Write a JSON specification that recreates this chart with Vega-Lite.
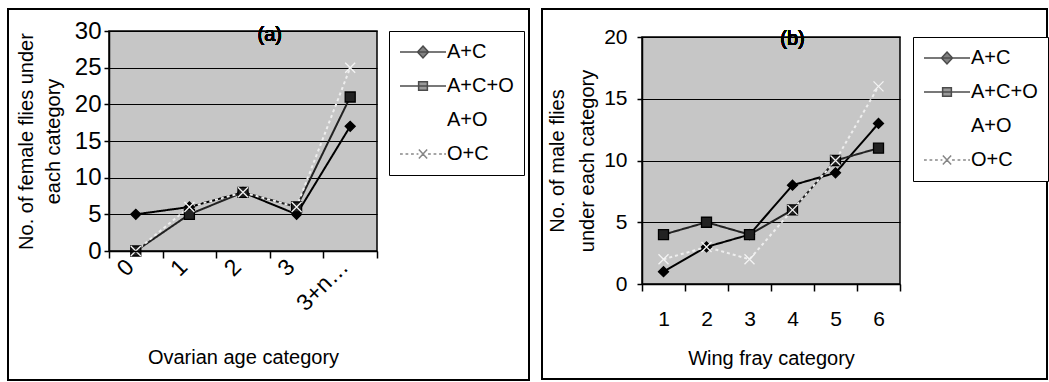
{
  "$schema": "https://vega.github.io/schema/vega-lite/v6.json",
  "background": "white",
  "padding": {"left": 6, "top": 7, "right": 0, "bottom": 0},
  "spacing": 9,
  "config": {
    "font": "Liberation Sans",
    "axis": {"labelFontSize": 20, "titleFontSize": 20, "labelColor": "black", "titleColor": "black", "titleFontWeight": "normal", "domainColor": "black", "tickColor": "black", "domainWidth": 1.5, "tickWidth": 1.5, "labelFont": "Liberation Sans", "titleFont": "Liberation Sans"},
    "legend": {"labelFont": "Liberation Sans", "labelFontSize": 20, "labelColor": "black"},
    "view": {"fill": "#c6c6c6", "stroke": "black", "strokeWidth": 1.5}
  },
  "resolve": {"scale": {"color": "independent", "stroke": "independent", "fill": "independent", "shape": "independent", "strokeDash": "independent", "x": "independent", "y": "independent"}, "legend": {"shape": "independent", "fill": "independent", "stroke": "independent"}},
  "hconcat": [
    {
      "width": 268,
      "height": 220,
      "data": {"values": [
        {"cat": "0", "series": "A+C", "n": 5}, {"cat": "1", "series": "A+C", "n": 6}, {"cat": "2", "series": "A+C", "n": 8}, {"cat": "3", "series": "A+C", "n": 5}, {"cat": "3+n…", "series": "A+C", "n": 17},
        {"cat": "0", "series": "A+C+O", "n": 0}, {"cat": "1", "series": "A+C+O", "n": 5}, {"cat": "2", "series": "A+C+O", "n": 8}, {"cat": "3", "series": "A+C+O", "n": 6}, {"cat": "3+n…", "series": "A+C+O", "n": 21},
        {"cat": "0", "series": "O+C", "n": 0}, {"cat": "1", "series": "O+C", "n": 6}, {"cat": "2", "series": "O+C", "n": 8}, {"cat": "3", "series": "O+C", "n": 6}, {"cat": "3+n…", "series": "O+C", "n": 25}
      ]},
      "encoding": {
        "x": {"field": "cat", "type": "ordinal", "sort": ["0", "1", "2", "3", "3+n…"], "bandPosition": 0.5,
          "scale": {"type": "band", "paddingInner": 0, "paddingOuter": 0},
          "axis": {"title": "Ovarian age category", "tickBand": "extent", "tickSize": 7, "labelAngle": -45, "labelBaseline": "middle", "labelAlign": "right", "labelOffset": -6, "labelFontSize": 23, "labelPadding": 5, "grid": false, "titlePadding": 32}},
        "y": {"field": "n", "type": "quantitative", "scale": {"domain": [0, 30]},
          "axis": {"title": ["No. of female flies under", "each category"], "values": [0, 5, 10, 15, 20, 25, 30], "labelFontSize": 24, "tickSize": 5, "labelPadding": 3, "grid": true, "gridColor": "black", "gridWidth": 1.2, "titlePadding": 11, "titleLineHeight": 27}}
      },
      "layer": [
        {"mark": {"type": "rect", "fill": "transparent", "stroke": "black", "strokeWidth": 1.5, "clip": false},
          "encoding": {
            "x": {"datum": "0", "bandPosition": -1.884},
            "x2": {"datum": "0", "bandPosition": 7.836},
            "y": {"datum": 33.0},
            "y2": {"datum": -17.6}
          }},
        {"mark": {"type": "line", "strokeWidth": 2},
          "encoding": {
            "color": {"field": "series", "type": "nominal", "legend": null, "scale": {"domain": ["A+C", "A+C+O", "A+O", "O+C"], "range": ["black", "#222222", "white", "#eeeeee"]}},
            "strokeDash": {"field": "series", "type": "nominal", "legend": null, "scale": {"domain": ["A+C", "A+C+O", "A+O", "O+C"], "range": [[1, 0], [1, 0], [1, 0], [3, 3]]}}
          }},
        {"mark": {"type": "point", "filled": true, "size": 100, "opacity": 1, "strokeWidth": 1.3},
          "encoding": {
            "color": {"field": "series", "type": "nominal", "legend": null, "scale": {"domain": ["A+C", "A+C+O", "A+O", "O+C"], "range": ["black", "#222222", "white", "#eeeeee"]}},
            "stroke": {"field": "series", "type": "nominal", "legend": null, "scale": {"domain": ["A+C", "A+C+O", "A+O", "O+C"], "range": ["black", "black", "white", "#f4f4f4"]}},
            "shape": {"field": "series", "type": "nominal", "legend": null, "scale": {"domain": ["A+C", "A+C+O", "A+O", "O+C"], "range": ["diamond", "square", "circle", "M-1,-1L1,1M-1,1L1,-1"]}}
          }},
        {"transform": [{"filter": "false"}],
          "mark": {"type": "point", "filled": true},
          "encoding": {
            "shape": {"field": "series", "type": "nominal",
              "scale": {"domain": ["A+C", "A+C+O", "A+O", "O+C"], "range": [
                "M-1,0L1,0M0,-0.26L0.24,0L0,0.26L-0.24,0Z",
                "M-1,0L1,0M-0.19,-0.19L0.19,-0.19L0.19,0.19L-0.19,0.19Z",
                "M-1,0L1,0",
                "M-1,0L-0.88,0M-0.76,0L-0.64,0M-0.52,0L-0.4,0M-0.28,0L-0.2,0M-0.18,-0.2L0.18,0.2M-0.18,0.2L0.18,-0.2M0.22,0L0.34,0M0.46,0L0.58,0M0.7,0L0.82,0M0.92,0L1,0"]},
              "legend": {"title": null, "orient": "right", "offset": 12, "symbolSize": 2116, "symbolStrokeWidth": 1.5, "clipHeight": 22, "rowPadding": 12, "labelOffset": 0, "padding": 10, "strokeColor": "black", "fillColor": "white"}},
            "fill": {"field": "series", "type": "nominal",
              "scale": {"domain": ["A+C", "A+C+O", "A+O", "O+C"], "range": ["black", "#333333", "transparent", "transparent"]},
              "legend": {"title": null, "orient": "right", "offset": 12, "symbolSize": 2116, "symbolStrokeWidth": 1.5, "clipHeight": 22, "rowPadding": 12, "labelOffset": 0, "padding": 10, "strokeColor": "black", "fillColor": "white"}},
            "stroke": {"field": "series", "type": "nominal",
              "scale": {"domain": ["A+C", "A+C+O", "A+O", "O+C"], "range": ["black", "black", "white", "#555555"]},
              "legend": {"title": null, "orient": "right", "offset": 12, "symbolSize": 2116, "symbolStrokeWidth": 1.5, "clipHeight": 22, "rowPadding": 12, "labelOffset": 0, "padding": 10, "strokeColor": "black", "fillColor": "white"}}
          }},
        {"mark": {"type": "text", "fontSize": 20, "baseline": "middle", "align": "center", "color": "black"},
          "encoding": {"x": {"datum": "3", "bandPosition": 0}, "y": {"datum": 29.5}, "text": {"value": "(a)"}}}
      ],
      "resolve": {"scale": {"shape": "independent", "stroke": "independent", "fill": "independent"}}
    },
    {
      "spacing": -31,
      "resolve": {"scale": {"color": "independent", "stroke": "independent", "fill": "independent", "shape": "independent", "strokeDash": "independent", "x": "independent", "y": "independent"}, "legend": {"shape": "independent", "fill": "independent", "stroke": "independent"}},
      "vconcat": [
        {
          "width": 258,
          "height": 1,
          "view": {"fill": null, "stroke": null},
          "data": {"values": [{"t": ""}]},
          "mark": {"type": "text"},
          "encoding": {"text": {"field": "t"}}
        },
        {
          "width": 258,
          "height": 247,
          "data": {"values": [
            {"cat": "1", "series": "A+C", "n": 1}, {"cat": "2", "series": "A+C", "n": 3}, {"cat": "3", "series": "A+C", "n": 4}, {"cat": "4", "series": "A+C", "n": 8}, {"cat": "5", "series": "A+C", "n": 9}, {"cat": "6", "series": "A+C", "n": 13},
            {"cat": "1", "series": "A+C+O", "n": 4}, {"cat": "2", "series": "A+C+O", "n": 5}, {"cat": "3", "series": "A+C+O", "n": 4}, {"cat": "4", "series": "A+C+O", "n": 6}, {"cat": "5", "series": "A+C+O", "n": 10}, {"cat": "6", "series": "A+C+O", "n": 11},
            {"cat": "1", "series": "O+C", "n": 2}, {"cat": "2", "series": "O+C", "n": 3}, {"cat": "3", "series": "O+C", "n": 2}, {"cat": "4", "series": "O+C", "n": 6}, {"cat": "5", "series": "O+C", "n": 10}, {"cat": "6", "series": "O+C", "n": 16}
          ]},
          "encoding": {
            "x": {"field": "cat", "type": "ordinal", "sort": ["1", "2", "3", "4", "5", "6"], "bandPosition": 0.5,
              "scale": {"type": "band", "paddingInner": 0, "paddingOuter": 0},
              "axis": {"title": "Wing fray category", "tickBand": "extent", "tickSize": 7, "labelAngle": 0, "labelFontSize": 21, "labelPadding": 17, "grid": false, "titlePadding": 19}},
            "y": {"field": "n", "type": "quantitative", "scale": {"domain": [0, 20]},
              "axis": {"title": ["No. of male flies", "under each category"], "values": [0, 5, 10, 15, 20], "labelFontSize": 21, "tickSize": 5, "labelPadding": 10, "grid": true, "gridColor": "black", "gridWidth": 1.2, "titlePadding": 6, "titleLineHeight": 30}}
          },
          "layer": [
            {"mark": {"type": "rect", "fill": "transparent", "stroke": "black", "strokeWidth": 1.5, "clip": false},
              "encoding": {
                "x": {"datum": "1", "bandPosition": -2.326},
                "x2": {"datum": "1", "bandPosition": 9.42},
                "y": {"datum": 22.27},
                "y2": {"datum": -7.69}
              }},
            {"mark": {"type": "line", "strokeWidth": 2},
              "encoding": {
                "color": {"field": "series", "type": "nominal", "legend": null, "scale": {"domain": ["A+C", "A+C+O", "A+O", "O+C"], "range": ["black", "#222222", "white", "#eeeeee"]}},
                "strokeDash": {"field": "series", "type": "nominal", "legend": null, "scale": {"domain": ["A+C", "A+C+O", "A+O", "O+C"], "range": [[1, 0], [1, 0], [1, 0], [3, 3]]}}
              }},
            {"mark": {"type": "point", "filled": true, "size": 100, "opacity": 1, "strokeWidth": 1.3},
              "encoding": {
                "color": {"field": "series", "type": "nominal", "legend": null, "scale": {"domain": ["A+C", "A+C+O", "A+O", "O+C"], "range": ["black", "#222222", "white", "#eeeeee"]}},
                "stroke": {"field": "series", "type": "nominal", "legend": null, "scale": {"domain": ["A+C", "A+C+O", "A+O", "O+C"], "range": ["black", "black", "white", "#f4f4f4"]}},
                "shape": {"field": "series", "type": "nominal", "legend": null, "scale": {"domain": ["A+C", "A+C+O", "A+O", "O+C"], "range": ["diamond", "square", "circle", "M-1,-1L1,1M-1,1L1,-1"]}}
              }},
            {"transform": [{"filter": "false"}],
              "mark": {"type": "point", "filled": true},
              "encoding": {
                "shape": {"field": "series", "type": "nominal",
                  "scale": {"domain": ["A+C", "A+C+O", "A+O", "O+C"], "range": [
                    "M-1,0L1,0M0,-0.26L0.24,0L0,0.26L-0.24,0Z",
                    "M-1,0L1,0M-0.19,-0.19L0.19,-0.19L0.19,0.19L-0.19,0.19Z",
                    "M-1,0L1,0",
                    "M-1,0L-0.88,0M-0.76,0L-0.64,0M-0.52,0L-0.4,0M-0.28,0L-0.2,0M-0.18,-0.2L0.18,0.2M-0.18,0.2L0.18,-0.2M0.22,0L0.34,0M0.46,0L0.58,0M0.7,0L0.82,0M0.92,0L1,0"]},
                  "legend": {"title": null, "orient": "right", "offset": 13, "symbolSize": 2116, "symbolStrokeWidth": 1.5, "clipHeight": 22, "rowPadding": 12, "labelOffset": 0, "padding": 10, "strokeColor": "black", "fillColor": "white"}},
                "fill": {"field": "series", "type": "nominal",
                  "scale": {"domain": ["A+C", "A+C+O", "A+O", "O+C"], "range": ["black", "#333333", "transparent", "transparent"]},
                  "legend": {"title": null, "orient": "right", "offset": 13, "symbolSize": 2116, "symbolStrokeWidth": 1.5, "clipHeight": 22, "rowPadding": 12, "labelOffset": 0, "padding": 10, "strokeColor": "black", "fillColor": "white"}},
                "stroke": {"field": "series", "type": "nominal",
                  "scale": {"domain": ["A+C", "A+C+O", "A+O", "O+C"], "range": ["black", "black", "white", "#555555"]},
                  "legend": {"title": null, "orient": "right", "offset": 13, "symbolSize": 2116, "symbolStrokeWidth": 1.5, "clipHeight": 22, "rowPadding": 12, "labelOffset": 0, "padding": 10, "strokeColor": "black", "fillColor": "white"}}
              }},
            {"mark": {"type": "text", "fontSize": 20, "baseline": "middle", "align": "center", "color": "black"},
              "encoding": {"x": {"datum": "4"}, "y": {"datum": 19.8}, "text": {"value": "(b)"}}}
          ],
          "resolve": {"scale": {"shape": "independent", "stroke": "independent", "fill": "independent"}}
        }
      ]
    }
  ]
}
